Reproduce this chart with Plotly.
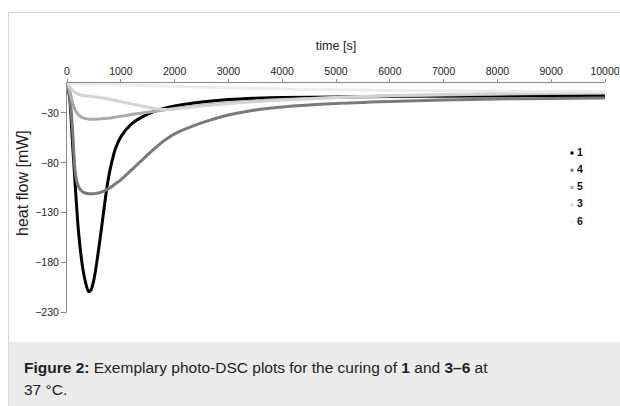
import plotly.graph_objects as go

W, H = 620, 406

# ---- data ----
time_s = [0, 50, 100, 150, 200, 250, 300, 350, 400, 450, 500, 550, 600, 650, 700, 750, 800,
          900, 1000, 1200, 1400, 1600, 1800, 2000, 2500, 3000, 3500, 4000, 5000, 6000,
          7000, 8000, 9000, 10000]

flow_1 = [0, -15, -58, -100, -140, -168, -188, -201, -209, -207, -197, -181, -162, -142, -121,
          -102, -87, -66, -54, -41, -34, -29, -25.5, -23, -19, -16.5, -15.2, -14.5, -14, -13.5,
          -13.2, -13, -12.8, -12.7]
flow_4 = [0, -13, -44, -88, -102, -107, -109.5, -110.5, -111, -111, -111, -110.5, -110, -109,
          -108, -106.5, -105, -101, -97, -87, -77, -67, -58, -51, -40, -32, -27, -24, -20.5,
          -18.5, -17, -16, -15.5, -15]
flow_5 = [0, -8, -19, -27, -31, -33.5, -35, -35.7, -36.2, -36.4, -36.4, -36.3, -36.1, -35.9,
          -35.6, -35.3, -35, -34.2, -33.4, -31.6, -30, -28.5, -27, -25.5, -22.5, -20, -18,
          -16.5, -14.5, -13, -12, -11.2, -10.5, -10]
flow_3 = [0, -4, -7.5, -9.5, -11, -12, -12.5, -12.9, -13.2, -13.5, -13.8, -14.1, -14.5, -14.9,
          -15.3, -15.8, -16.3, -17.5, -18.7, -21, -23.2, -25.2, -26.5, -26, -23, -20.5, -18.5,
          -17, -14.5, -12.5, -11.5, -10.5, -10, -9.5]
flow_6 = [0, -0.2, -0.4, -0.5, -0.6, -0.7, -0.8, -0.9, -1, -1.05, -1.1, -1.15, -1.2, -1.25,
          -1.3, -1.35, -1.4, -1.5, -1.7, -2.1, -2.5, -2.8, -3.1, -3.4, -4, -4.7, -5.3, -5.9,
          -6.8, -7.4, -7.8, -8.1, -8.3, -8.5]

series_names = ["1", "4", "5", "3", "6"]
series_values = [flow_1, flow_4, flow_5, flow_3, flow_6]
series_colors = ["#000000", "#7a7a7a", "#ababab", "#d3d3d3", "#ececec"]

x_ticks = [0, 1000, 2000, 3000, 4000, 5000, 6000, 7000, 8000, 9000, 10000]
y_ticks = [-30, -80, -130, -180, -230]

FONT = "Liberation Sans, Arial, sans-serif"

def px_x(p):
    return p / W

def px_y(p):
    return 1 - p / H

fig = go.Figure()

for name, vals, col in zip(series_names, series_values, series_colors):
    fig.add_trace(go.Scatter(
        x=time_s, y=vals, mode="lines", name=name, showlegend=False,
        line=dict(color=col, width=3, shape="spline", smoothing=0.7),
        hoverinfo="skip", xaxis="x", yaxis="y"))

# legend drawn as a small marker+text trace on its own overlay axes
fig.add_trace(go.Scatter(
    x=[0] * len(series_names),
    y=list(range(len(series_names) - 1, -1, -1)),
    mode="markers+text",
    text=["&#8201;<b>%s</b>" % n for n in series_names],
    textposition="middle right",
    textfont=dict(family=FONT, size=10.5, color="#111111"),
    marker=dict(symbol="square", size=3, color=series_colors),
    showlegend=False, cliponaxis=False, hoverinfo="skip",
    xaxis="x2", yaxis="y2"))

x0, x1 = 67, 605
y_top, y_bot = 83, 312.5

fig.update_layout(
    width=W, height=H,
    margin=dict(l=0, r=0, t=0, b=0, pad=0, autoexpand=False),
    paper_bgcolor="white", plot_bgcolor="rgba(0,0,0,0)",
    font=dict(family=FONT, color="#222222"),
    showlegend=False,
    xaxis=dict(
        domain=[px_x(x0), px_x(x1)], range=[0, 10000], side="top",
        tickvals=x_ticks, ticktext=[str(v) for v in x_ticks],
        showline=True, linecolor="#8a8a8a", linewidth=1,
        ticks="outside", ticklen=3, tickcolor="#8a8a8a",
        showgrid=False, zeroline=False, automargin=False,
        tickfont=dict(size=10.5, color="#222222"),
        title=dict(text="time [s]", font=dict(size=12.5, color="#222222"), standoff=11),
        anchor="y", fixedrange=True),
    yaxis=dict(
        domain=[px_y(y_bot), px_y(y_top)], range=[-230, 0],
        tickvals=y_ticks,
        showline=True, linecolor="#8a8a8a", linewidth=1,
        ticks="outside", ticklen=5, tickcolor="#8a8a8a",
        showgrid=False, zeroline=False, automargin=False,
        tickfont=dict(size=10.5, color="#222222"),
        anchor="x", fixedrange=True),
    xaxis2=dict(domain=[px_x(572), px_x(600)], range=[0, 1], visible=False,
                automargin=False, anchor="y2", fixedrange=True),
    yaxis2=dict(domain=[px_y(222), px_y(153)], range=[0, 4], visible=False,
                automargin=False, anchor="x2", fixedrange=True),
)

# y-axis title (placed like the original, above the axis centre)
fig.add_annotation(
    xref="paper", yref="paper", x=px_x(22), y=px_y(183), xanchor="center", yanchor="middle",
    text="heat flow [mW]", textangle=-90, showarrow=False,
    font=dict(family=FONT, size=16, color="#222222"))

# panel border and caption band
fig.add_shape(type="rect", xref="paper", yref="paper",
              x0=px_x(8), x1=px_x(640), y0=px_y(342), y1=px_y(420),
              fillcolor="#ebebeb", line=dict(width=0), layer="below")
fig.add_shape(type="line", xref="paper", yref="paper",
              x0=px_x(8.5), x1=px_x(8.5), y0=px_y(12), y1=px_y(420),
              line=dict(color="#d6d6d6", width=1))
fig.add_shape(type="line", xref="paper", yref="paper",
              x0=px_x(8.5), x1=px_x(640), y0=px_y(12.5), y1=px_y(12.5),
              line=dict(color="#d6d6d6", width=1))

fig.add_annotation(
    xref="paper", yref="paper", x=px_x(22), y=px_y(367), xanchor="left", yanchor="middle",
    text="<b>Figure 2:</b> Exemplary photo-DSC plots for the curing of <b>1</b> and <b>3–6</b> at",
    showarrow=False, font=dict(family=FONT, size=15.5, color="#222222"), align="left")
fig.add_annotation(
    xref="paper", yref="paper", x=px_x(22), y=px_y(389), xanchor="left", yanchor="middle",
    text="37 °C.",
    showarrow=False, font=dict(family=FONT, size=15.5, color="#222222"), align="left")

fig.write_html("out.html")
